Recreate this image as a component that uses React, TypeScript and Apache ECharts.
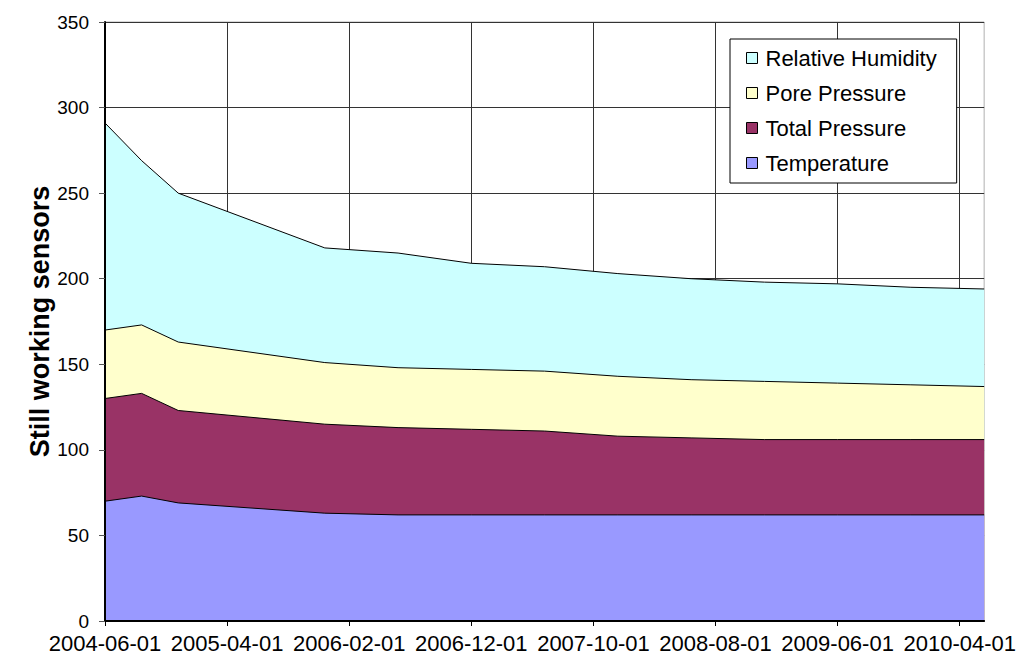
import React, { useEffect, useRef } from "react";
import * as echarts from "echarts";

const dates = ["2004-06-01", "2004-09-01", "2004-12-01", "2005-12-01", "2006-06-01", "2006-12-01", "2007-06-01", "2007-12-01", "2008-06-01", "2008-12-01", "2009-06-01", "2009-12-01", "2010-06-01"];
const temperature = [70, 73, 69, 63, 62, 62, 62, 62, 62, 62, 62, 62, 62];
const totalPressure = [60, 60, 54, 52, 51, 50, 49, 46, 45, 44, 44, 44, 44];
const porePressure = [40, 40, 40, 36, 35, 35, 35, 35, 34, 34, 33, 32, 31];
const relativeHumidity = [121, 96, 87, 67, 67, 62, 61, 60, 59, 58, 58, 57, 57];
const yTicks = [0, 50, 100, 150, 200, 250, 300, 350];
const xStart = "2004-06-01";

const FONT = "'Liberation Sans', Arial, sans-serif";

function monthIndex(d: string): number {
  const [y, m] = d.split("-").map(Number);
  const [y0, m0] = xStart.split("-").map(Number);
  return (y - y0) * 12 + (m - m0);
}
function monthLabel(v: number): string {
  const [y0, m0] = xStart.split("-").map(Number);
  const total = y0 * 12 + (m0 - 1) + v;
  const y = Math.floor(total / 12);
  const m = (total % 12) + 1;
  return `${y}-${String(m).padStart(2, "0")}-01`;
}

export default function App() {
  const ref = useRef<HTMLDivElement>(null);
  useEffect(() => {
    const chart = echarts.init(ref.current!, undefined, { renderer: "svg" });
    const layers = [
      { name: "Temperature", values: temperature, color: "#9999FF" },
      { name: "Total Pressure", values: totalPressure, color: "#993366" },
      { name: "Pore Pressure", values: porePressure, color: "#FFFFCC" },
      { name: "Relative Humidity", values: relativeHumidity, color: "#CCFFFF" },
    ];
    const cum: number[][] = [];
    layers.forEach((l, k) => {
      cum.push(l.values.map((v, i) => v + (k > 0 ? cum[k - 1][i] : 0)));
    });
    const series = layers
      .map((l, k) => ({
        name: l.name,
        type: "line",
        xAxisIndex: 0,
        yAxisIndex: 0,
        data: dates.map((d, i) => [monthIndex(d), cum[k][i]]),
        showSymbol: false,
        symbol: "none",
        color: l.color,
        lineStyle: { color: "#000", width: 1 },
        itemStyle: { color: l.color, borderColor: "#000", borderWidth: 1 },
        areaStyle: { color: l.color, opacity: 1 },
        emphasis: { disabled: true },
        z: 1 + (layers.length - k),
      }))
      .reverse();
    const xMax = monthIndex(dates[dates.length - 1]);
    const xBase = { type: "value", min: 0, max: xMax, interval: 10 };
    const yBase = { type: "value", min: yTicks[0], max: yTicks[yTicks.length - 1], interval: 50 };
    chart.setOption({
      animation: false,
      textStyle: { fontFamily: FONT },
      grid: { left: 105, right: 33, top: 22, bottom: 43, show: true, borderColor: "#b0b0b0", borderWidth: 1, z: 0 },
      legend: {
        orient: "vertical",
        left: 730,
        top: 39,
        icon: "rect",
        itemWidth: 11,
        itemHeight: 11,
        itemGap: 13,
        padding: [8, 20, 9, 16],
        backgroundColor: "#fff",
        borderColor: "#000",
        borderWidth: 1,
        z: 20,
        itemStyle: { borderColor: "#000", borderWidth: 1 },
        textStyle: { fontSize: 22, color: "#000", fontFamily: FONT, padding: [0, 0, 0, 3] },
        data: ["Relative Humidity", "Pore Pressure", "Total Pressure", "Temperature"],
      },
      xAxis: [
        {
          ...xBase,
          z: 0,
          axisLine: { show: false },
          axisTick: { show: false },
          axisLabel: { show: false },
          splitLine: { show: true, showMaxLine: false, lineStyle: { color: "#333", width: 1 } },
        },
        {
          ...xBase,
          position: "bottom",
          z: 50,
          axisLine: { show: true, onZero: false, lineStyle: { color: "#000", width: 2 } },
          axisTick: { show: true, length: 5, lineStyle: { color: "#000" } },
          axisLabel: {
            fontSize: 22,
            color: "#000",
            fontFamily: FONT,
            margin: 11,
            showMaxLabel: false,
            formatter: (v: number) => (v % 10 === 0 ? monthLabel(v) : ""),
          },
          splitLine: { show: false },
        },
      ],
      yAxis: [
        {
          ...yBase,
          z: 0,
          axisLine: { show: false },
          axisTick: { show: false },
          axisLabel: { show: false },
          splitLine: { show: true, lineStyle: { color: "#333", width: 1 } },
        },
        {
          ...yBase,
          position: "left",
          z: 50,
          name: "Still working sensors",
          nameLocation: "middle",
          nameGap: 52,
          nameMoveOverlap: false,
          nameTextStyle: { fontSize: 27, fontWeight: "bold", color: "#000", fontFamily: FONT },
          axisLine: { show: true, onZero: false, lineStyle: { color: "#000", width: 2 } },
          axisTick: { show: true, length: 6, lineStyle: { color: "#555" } },
          axisLabel: { fontSize: 19, color: "#000", fontFamily: FONT, margin: 16 },
          splitLine: { show: false },
        },
      ],
      series,
    });
    return () => chart.dispose();
  }, []);
  return <div ref={ref} style={{ position: "fixed", left: 0, top: 0, width: 1019, height: 664, background: "#fff" }} />;
}
